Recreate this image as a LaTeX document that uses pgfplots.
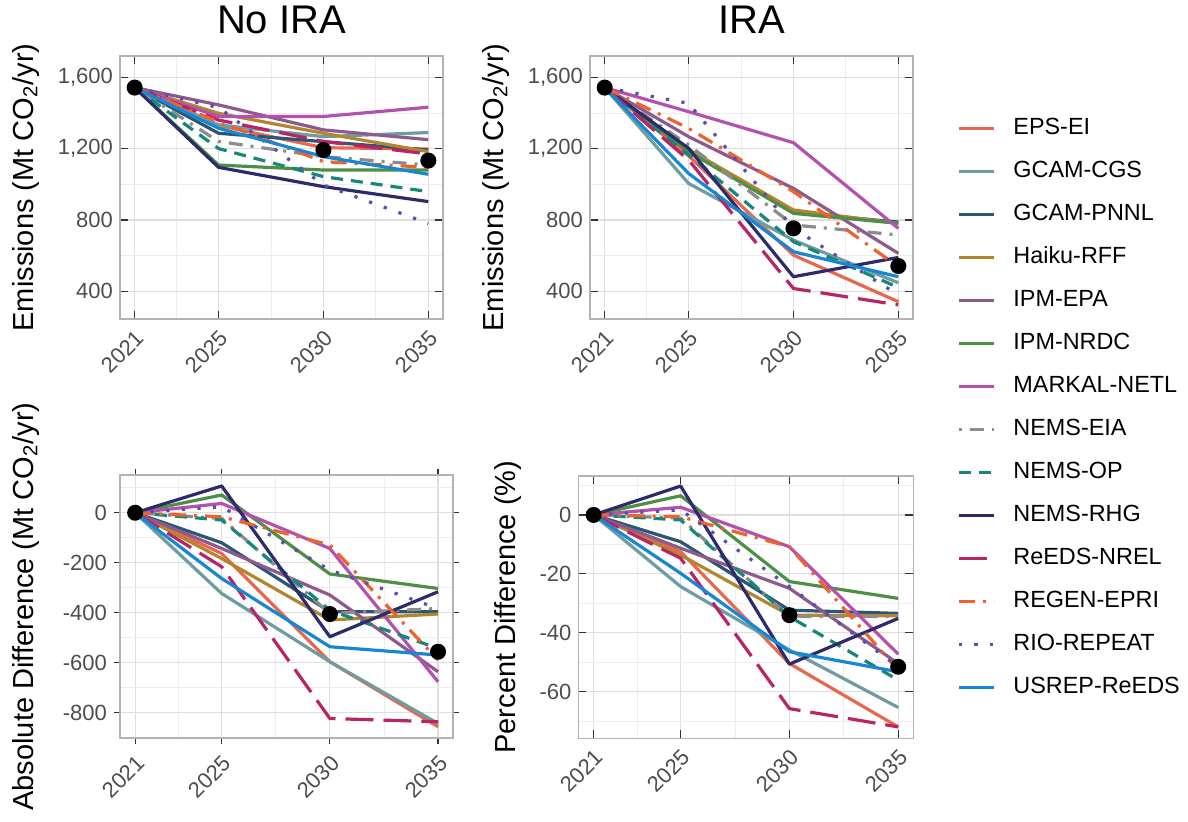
\documentclass[border=0pt]{standalone}
\usepackage{pgfplots}
\pgfplotsset{compat=1.18}
\usepackage{pgfplotstable}
\usepackage{fontspec}
\setmainfont{Liberation Sans}

\definecolor{cEPS}{HTML}{E8674F}
\definecolor{cCGS}{HTML}{6E9CA3}
\definecolor{cPNNL}{HTML}{2B5674}
\definecolor{cRFF}{HTML}{B5852E}
\definecolor{cEPA}{HTML}{8E5A8E}
\definecolor{cNRDC}{HTML}{4E8F46}
\definecolor{cNETL}{HTML}{B451AE}
\definecolor{cEIA}{HTML}{8C8C8C}
\definecolor{cOP}{HTML}{17877A}
\definecolor{cRHG}{HTML}{2D2B6B}
\definecolor{cNREL}{HTML}{B82466}
\definecolor{cEPRI}{HTML}{F0622B}
\definecolor{cREPEAT}{HTML}{5A4DAB}
\definecolor{cUSREP}{HTML}{1787D3}
\definecolor{gmaj}{HTML}{DEDEDE}
\definecolor{gmin}{HTML}{EDEDED}
\definecolor{gbord}{HTML}{B3B3B3}
\definecolor{tickc}{HTML}{333333}
\definecolor{tlab}{HTML}{4D4D4D}

% emissions, no IRA (Mt CO2/yr)
\pgfplotstableread{
year EPS CGS PNNL RFF EPA NRDC NETL EIA OP RHG NREL EPRI REPEAT USREP
2021 1542 1542 1542 1542 1542 1542 1542 1542 1542 1542 1542 1542 1542 1542
2025 1330 1333 1286 1398 1445 1108 1380 1240 1200 1095 1360 1350 1430 1314
2030 1205 1267 1239 1286 1305 1080 1380 1155 1043 987 1240 1127 996 1155
2035 1198 1290 1192 1183 1250 1080 1432 1108 959 903 1170 1095 781 1056
}\noira

% emissions, IRA
\pgfplotstableread{
year EPS CGS PNNL RFF EPA NRDC NETL EIA OP RHG NREL EPRI REPEAT USREP
2021 1542 1542 1542 1542 1542 1542 1542 1542 1542 1542 1542 1542 1542 1542
2025 1160 1005 1192 1195 1267 1183 1407 1220 1165 1202 1136 1314 1454 1061
2030 603 687 841 856 977 837 1233 772 678 482 416 959 753 622
2035 342 448 788 781 613 781 753 716 422 590 324 538 379 482
}\ira

% absolute difference
\pgfplotstableread{
year EPS CGS PNNL RFF EPA NRDC NETL EIA OP RHG NREL EPRI REPEAT USREP
2021 0 0 0 0 0 0 0 0 0 0 0 0 0 0
2025 -163 -323 -120 -183 -143 71 37 -23 -29 107 -216 -16 24 -263
2030 -596 -596 -396 -429 -329 -245 -143 -403 -390 -496 -823 -129 -229 -536
2035 -856 -843 -396 -405 -636 -303 -676 -383 -543 -316 -836 -589 -383 -569
}\absdiff

% percent difference
\pgfplotstableread{
year EPS CGS PNNL RFF EPA NRDC NETL EIA OP RHG NREL EPRI REPEAT USREP
2021 0 0 0 0 0 0 0 0 0 0 0 0 0 0
2025 -12.5 -24.3 -9.1 -13.6 -11.3 6.5 2.6 -1.1 -1.7 9.8 -14.7 -0.6 1.7 -19.8
2030 -50.4 -45.8 -32.3 -34.0 -24.9 -22.6 -10.8 -34.5 -34.5 -50.6 -65.7 -10.8 -24.3 -46.4
2035 -71.9 -65.3 -33.4 -34.2 -50.4 -28.3 -47.2 -34.5 -56.0 -35.1 -71.9 -52.6 -51.5 -53.2
}\pctdiff

\pgfplotsset{
  panel/.style={
    scale only axis,
    xmin=2020.3, xmax=2035.7,
    xtick={2021,2025,2030,2035},
    xticklabels={2021,2025,2030,2035},
    minor xtick={2023,2027.5,2032.5},
    grid=both,
    major grid style={color=gmaj, line width=0.6pt},
    minor grid style={color=gmin, line width=0.4pt},
    minor tick length=0pt,
    major tick length=4pt,
    tick style={color=tickc, line width=0.6pt},
    axis line style={color=gbord, line width=0.8pt},
    tick label style={font=\fontsize{11}{13}\selectfont, text=tlab},
    xticklabel style={rotate=45, anchor=north east},
    label style={font=\fontsize{14.5}{16}\selectfont},
    title style={font=\fontsize{20}{22}\selectfont, anchor=base, yshift=5.5pt},
    every axis plot/.append style={line width=1.6pt, line cap=butt, line join=round},
  },
  mEPS/.style={color=cEPS, solid},
  mCGS/.style={color=cCGS, solid},
  mPNNL/.style={color=cPNNL, solid},
  mRFF/.style={color=cRFF, solid},
  mEPA/.style={color=cEPA, solid},
  mNRDC/.style={color=cNRDC, solid},
  mNETL/.style={color=cNETL, solid},
  mEIA/.style={color=cEIA, dash pattern=on 1.5pt off 4pt on 7pt off 4pt},
  mOP/.style={color=cOP, dash pattern=on 6pt off 4pt},
  mRHG/.style={color=cRHG, solid},
  mNREL/.style={color=cNREL, dash pattern=on 14pt off 5pt},
  mEPRI/.style={color=cEPRI, dash pattern=on 8pt off 4pt on 1.5pt off 4pt},
  mREPEAT/.style={color=cREPEAT, dash pattern=on 1.6pt off 6.2pt},
  mUSREP/.style={color=cUSREP, solid},
  meanpt/.style={only marks, mark=*, mark size=3.2pt, black, forget plot},
}

\newcommand{\allmodels}[1]{%
  \addplot[mEPS] table[x=year, y=EPS] {#1};
  \addplot[mCGS] table[x=year, y=CGS] {#1};
  \addplot[mPNNL] table[x=year, y=PNNL] {#1};
  \addplot[mRFF] table[x=year, y=RFF] {#1};
  \addplot[mEPA] table[x=year, y=EPA] {#1};
  \addplot[mNRDC] table[x=year, y=NRDC] {#1};
  \addplot[mNETL] table[x=year, y=NETL] {#1};
  \addplot[mEIA] table[x=year, y=EIA] {#1};
  \addplot[mOP] table[x=year, y=OP] {#1};
  \addplot[mRHG] table[x=year, y=RHG] {#1};
  \addplot[mNREL] table[x=year, y=NREL] {#1};
  \addplot[mEPRI] table[x=year, y=EPRI] {#1};
  \addplot[mREPEAT] table[x=year, y=REPEAT] {#1};
  \addplot[mUSREP] table[x=year, y=USREP] {#1};
}

\begin{document}
\begin{tikzpicture}
\path[use as bounding box] (0pt,0pt) rectangle (594pt,410.5pt);

% top left: No IRA
\begin{axis}[panel,
  at={(60pt,251pt)}, anchor=south west,
  width=161.5pt, height=131.5pt,
  tick align=inside,
  ymin=245, ymax=1719,
  ytick={400,800,1200,1600},
  yticklabels={400,800,{1,200},{1,600}},
  minor ytick={600,1000,1400},
  title={No IRA},
  ylabel={Emissions (Mt CO\textsubscript{2}/yr)},
  ylabel style={at={(axis description cs:-0.269,0.5)}, anchor=base},
]
\allmodels{\noira}
\addplot[meanpt] coordinates {(2021,1542) (2030,1192) (2035,1133)};
\end{axis}

% top right: IRA
\begin{axis}[panel,
  at={(295pt,251pt)}, anchor=south west,
  width=161.5pt, height=131.5pt,
  tick align=inside,
  ymin=245, ymax=1719,
  ytick={400,800,1200,1600},
  yticklabels={400,800,{1,200},{1,600}},
  minor ytick={600,1000,1400},
  title={IRA},
  ylabel={Emissions (Mt CO\textsubscript{2}/yr)},
  ylabel style={at={(axis description cs:-0.269,0.5)}, anchor=base},
  legend cell align=left,
  legend image code/.code={\draw[#1] (0pt,0pt) -- (17.5pt,0pt);},
  legend style={draw=none, fill=none,
    at={(axis description cs:1.117,0.782)}, anchor=north west,
    font=\fontsize{11.7}{13}\selectfont,
    row sep=10.5pt,
    nodes={inner sep=0pt, text height=8.4pt, text depth=2.6pt},
    /tikz/every odd column/.append style={column sep=9pt}},
]
\allmodels{\ira}
\addplot[meanpt] coordinates {(2021,1542) (2030,753) (2035,542)};
\legend{EPS-EI, GCAM-CGS, GCAM-PNNL, Haiku-RFF, IPM-EPA, IPM-NRDC,
  MARKAL-NETL, NEMS-EIA, NEMS-OP, NEMS-RHG, ReEDS-NREL, REGEN-EPRI,
  RIO-REPEAT, USREP-ReEDS}
\end{axis}

% bottom left: absolute difference
\begin{axis}[panel,
  at={(60pt,41.5pt)}, anchor=south west,
  width=166.6pt, height=131.5pt,
  tick align=outside,
  major tick length=3pt,
  ymin=-901, ymax=151,
  ytick={-800,-600,-400,-200,0},
  yticklabels={-800,-600,-400,-200,0},
  minor ytick={-700,-500,-300,-100,100},
  ylabel={Absolute Difference (Mt CO\textsubscript{2}/yr)},
  ylabel style={at={(axis description cs:-0.261,0.5)}, anchor=base},
]
\allmodels{\absdiff}
\addplot[meanpt] coordinates {(2021,0) (2030,-405) (2035,-556)};
\end{axis}

% bottom right: percent difference
\begin{axis}[panel,
  at={(289.2pt,41.3pt)}, anchor=south west,
  width=167.5pt, height=131.2pt,
  tick align=inside,
  ymin=-75.8, ymax=13.2,
  ytick={-60,-40,-20,0},
  yticklabels={-60,-40,-20,0},
  minor ytick={-70,-50,-30,-10,10},
  ylabel={Percent Difference (\%)},
  ylabel style={at={(axis description cs:-0.189,0.5)}, anchor=base},
]
\allmodels{\pctdiff}
\addplot[meanpt] coordinates {(2021,0) (2030,-34) (2035,-51.5)};
\end{axis}
\end{tikzpicture}
\end{document}
